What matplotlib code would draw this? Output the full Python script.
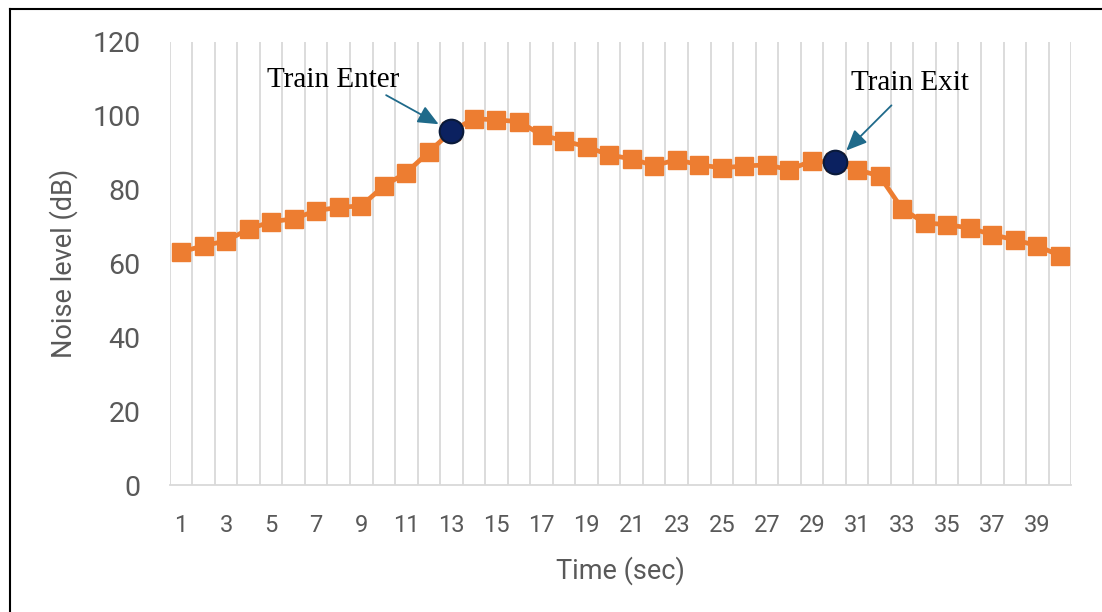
import numpy as np
import matplotlib.pyplot as plt
from matplotlib.lines import Line2D

# noise level per second while a train passes
time_s = list(range(1, 41))
noise_db = [63.1, 64.8, 66.1, 69.3, 71.3, 72.1, 74.3, 75.2, 75.6, 81.0,
            84.6, 90.2, 95.8, 99.2, 98.9, 98.4, 94.8, 93.2, 91.6, 89.4,
            88.3, 86.5, 88.1, 86.7, 85.9, 86.4, 86.7, 85.4, 87.8, 87.4,
            85.4, 83.7, 74.8, 71.0, 70.5, 69.6, 67.8, 66.4, 64.8, 62.1]

events = ["Train Enter", "Train Exit"]
event_t = [13, 30]
yticks = [0, 20, 40, 60, 80, 100, 120]

GREY = "#595959"
ORANGE = "#ED7D31"
NAVY = "#0B2160"
TEAL = "#1F6A8A"

plt.rcParams["font.family"] = ["Roboto", "DejaVu Sans"]

fig = plt.figure(figsize=(11.02, 6.12), dpi=100)
ax = fig.add_axes([0.154, 0.2075, 0.818, 0.724])

# vertical gridlines between categories
for b in np.arange(0.5, 41, 1.0):
    ax.axvline(b, color="#D9D9D9", lw=1.3, zorder=0)

ax.plot(time_s, noise_db, color=ORANGE, lw=3.4, marker="s", ms=12.5,
        mec=ORANGE, mfc=ORANGE, zorder=3)

ev_db = [noise_db[t - 1] for t in event_t]
ax.plot(event_t, ev_db, ls="none", marker="o", ms=17, mfc=NAVY,
        mec="#0A1A3A", mew=1.5, zorder=4)

# labels and arrows, offsets in points from each event marker
text_off = [(-85, 32), (54, 52)]
tail_off = [(-47, 26), (41, 41)]
tip_gap = [10.5, 12]
arrow = dict(arrowstyle="-|>,head_length=1.25,head_width=0.55", color=TEAL,
             lw=1.3, shrinkA=0)
for name, t, db, toff, aoff, gap in zip(events, event_t, ev_db, text_off,
                                        tail_off, tip_gap):
    ax.annotate(name, xy=(t, db), xytext=toff, textcoords="offset points",
                fontsize=21, family="Liberation Serif", color="black",
                ha="center", va="baseline", zorder=5)
    ax.annotate("", xy=(t, db), xytext=aoff, textcoords="offset points",
                arrowprops=dict(arrow, shrinkB=gap), zorder=5)

ax.set_xlim(0.5, 40.5)
ax.set_ylim(0, 120)
ax.set_yticks(yticks)
ax.set_xticks(time_s[::2])
ax.tick_params(axis="both", length=0, colors=GREY)
ax.tick_params(axis="x", labelsize=17, pad=21)
ax.tick_params(axis="y", labelsize=20.5, pad=21)

for s in ["top", "right", "left"]:
    ax.spines[s].set_visible(False)
ax.spines["bottom"].set_color("#D9D9D9")
ax.spines["bottom"].set_linewidth(1.3)

ax.set_xlabel("Time (sec)", fontsize=19.5, color=GREY, labelpad=14)
ax.set_ylabel("Noise level (dB)", fontsize=19.5, color=GREY, labelpad=10)

# frame edges on the left and top of the figure
fx, fy = 9.5 / 1102, 1 - 9 / 612
fig.add_artist(Line2D([fx, fx], [0, fy], transform=fig.transFigure,
                      color="black", lw=1.5))
fig.add_artist(Line2D([fx, 1], [fy, fy], transform=fig.transFigure,
                      color="black", lw=1.5))

fig.savefig("out.png", dpi=100)
